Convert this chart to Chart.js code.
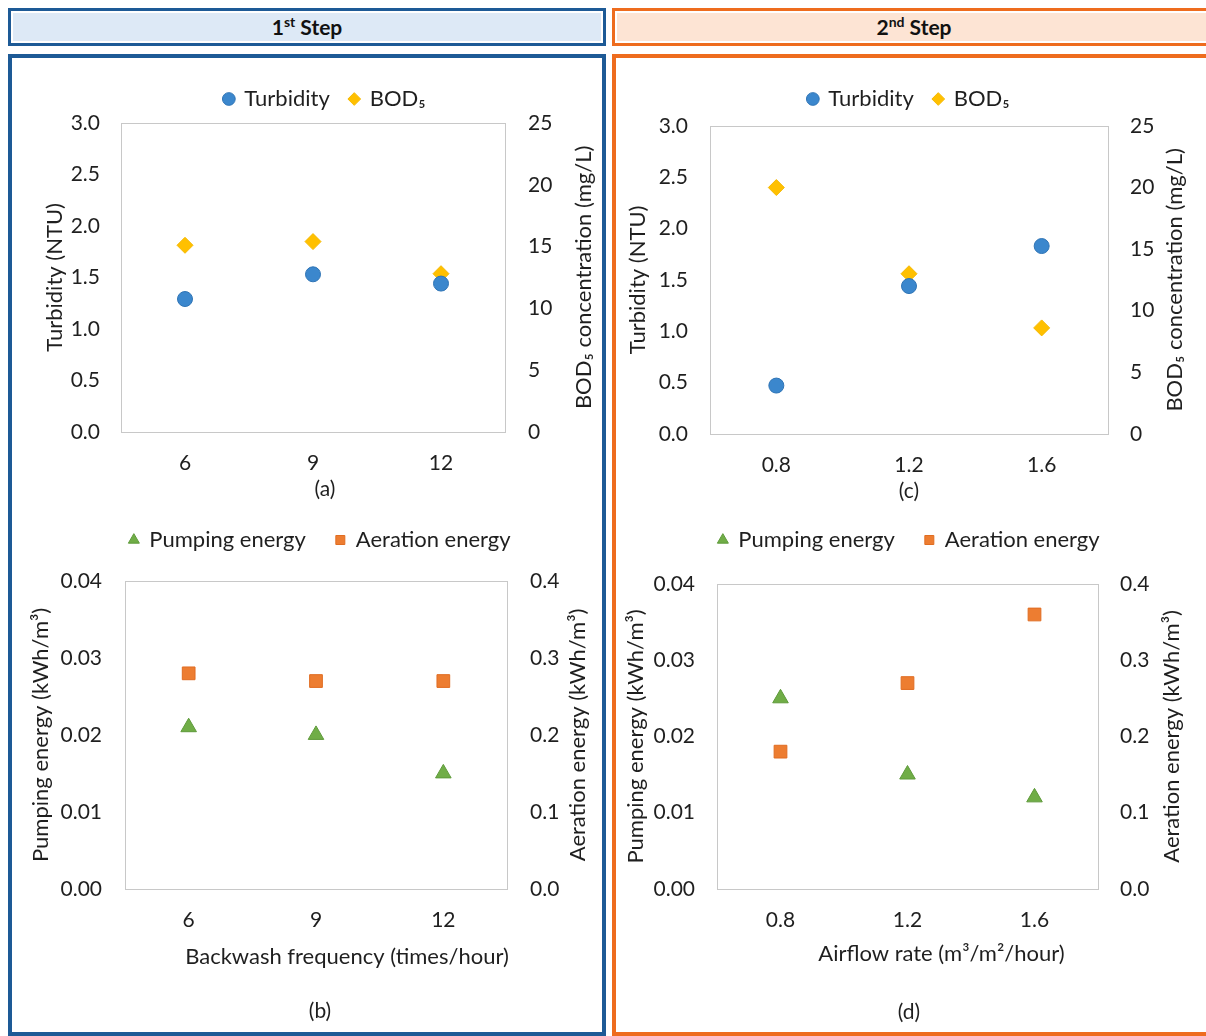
<!DOCTYPE html>
<html>
<head>
<meta charset="utf-8">
<script src="https://cdn.jsdelivr.net/npm/chart.js@4.4.1/dist/chart.umd.min.js"></script>
<style>
  body { margin: 0; width: 1206px; height: 1036px; overflow: hidden; background: #fff; position: relative;
         font-family: Lato, "Open Sans", sans-serif; }
  .head { position: absolute; top: 8px; height: 38px; box-sizing: border-box; border: 3px solid;
          box-shadow: inset 0 0 0 2px #fff; text-align: center; font-weight: bold; font-size: 21px;
          line-height: 32px; color: #111; }
  .head sup { font-size: 14px; line-height: 0; }
  .panel { position: absolute; top: 54px; height: 982px; box-sizing: border-box; border: 4px solid; }
  .blue { border-color: #1d5a96; }
  .orange { border-color: #ee6c1e; }
  .wrap { position: absolute; }
</style>
</head>
<body>

<div class="head blue" style="left:8px; width:598px; background:#dde9f6;">1<sup>st</sup> Step</div>
<div class="head orange" style="left:612px; width:604px; background:#fde4d4;">2<sup>nd</sup> Step</div>
<div class="panel blue" style="left:8px; width:598px;"></div>
<div class="panel orange" style="left:612px; width:604px;"></div>

<div class="wrap" style="left:14px; top:60px; width:622px; height:452px;"><canvas id="chartA"></canvas></div>
<div class="wrap" style="left:14px; top:495px; width:612px; height:535px;"><canvas id="chartB"></canvas></div>
<div class="wrap" style="left:618px; top:60px; width:582px; height:452px;"><canvas id="chartC"></canvas></div>
<div class="wrap" style="left:618px; top:495px; width:582px; height:535px;"><canvas id="chartD"></canvas></div>

<script>
// data
const backwashFreq = ['6', '9', '12'];
const airflowRate = ['0.8', '1.2', '1.6'];

const turbidityStep1 = [1.29, 1.53, 1.44];
const bodStep1 = [15.1, 15.4, 12.8];
const pumpingStep1 = [0.021, 0.020, 0.015];
const aerationStep1 = [0.28, 0.27, 0.27];

const turbidityStep2 = [0.47, 1.44, 1.83];
const bodStep2 = [20.0, 13.0, 8.6];
const pumpingStep2 = [0.025, 0.015, 0.012];
const aerationStep2 = [0.18, 0.27, 0.36];

// axis ticks
const turbidityTicks = [0, 0.5, 1.0, 1.5, 2.0, 2.5, 3.0];
const bodTicks = [0, 5, 10, 15, 20, 25];
const pumpingTicks = [0, 0.01, 0.02, 0.03, 0.04];
const aerationTicks = [0, 0.1, 0.2, 0.3, 0.4];

const textColor = '#1f1f1f';
const fontFamily = 'Lato, "Open Sans", sans-serif';
Chart.defaults.font.family = fontFamily;
Chart.defaults.font.size = 22;
Chart.defaults.color = textColor;

// light grey frame around the plot area
const plotFrame = {
    id: 'plotFrame',
    beforeDatasetsDraw(chart) {
        const { ctx, chartArea: a } = chart;
        ctx.save();
        ctx.strokeStyle = '#c8c8c8';
        ctx.lineWidth = 1;
        ctx.strokeRect(Math.round(a.left) + 0.5, Math.round(a.top) + 0.5,
            Math.round(a.right - a.left), Math.round(a.bottom - a.top));
        ctx.restore();
    }
};

// right axis title reads bottom-to-top like the left one; x title sits a bit off centre
const extraTitles = {
    id: 'extraTitles',
    afterDraw(chart, args, opts) {
        const { ctx, chartArea: a } = chart;
        const s = chart.scales.y2;
        ctx.save();
        ctx.font = '22px ' + fontFamily;
        ctx.fillStyle = textColor;
        ctx.textAlign = 'center';
        ctx.textBaseline = 'middle';
        if (opts.xText) {
            ctx.fillText(opts.xText, (a.left + a.right) / 2 + opts.xShift, a.bottom + opts.xDrop);
        }
        ctx.translate(s.right - opts.offset, (s.top + s.bottom) / 2);
        ctx.rotate(-Math.PI / 2);
        ctx.fillText(opts.text, 0, 0);
        ctx.restore();
    }
};

function pointSet(label, data, axis, style, color, edge, radius) {
    return {
        label: label,
        data: data,
        xAxisID: 'x',
        yAxisID: axis,
        showLine: false,
        pointStyle: style,
        pointRadius: radius,
        pointHoverRadius: radius,
        backgroundColor: color,
        borderColor: edge,
        pointBorderWidth: 1
    };
}

function yAxis(pos, ticks, dec, width, tickPad, title, titlePad) {
    return {
        position: pos,
        min: ticks[0],
        max: ticks[ticks.length - 1],
        grid: { display: false, drawTicks: false },
        border: { display: false },
        afterBuildTicks: s => { s.ticks = ticks.map(v => ({ value: v })); },
        afterFit: s => { s.width = width; },
        ticks: { padding: tickPad, font: { size: 21 }, callback: v => Number(v).toFixed(dec) },
        title: { display: !!title, text: title, padding: { top: titlePad, bottom: 0 } }
    };
}

function makeChart(id, p) {
    new Chart(document.getElementById(id), {
        type: 'line',
        data: { labels: p.labels, datasets: p.datasets },
        options: {
            responsive: true,
            maintainAspectRatio: false,
            animation: false,
            layout: { padding: { top: p.padTop, bottom: p.padBottom, left: 0, right: 0 } },
            plugins: {
                legend: {
                    position: 'top',
                    labels: { usePointStyle: true, boxWidth: 9, boxHeight: 9, padding: p.legendPad, color: textColor }
                },
                title: {
                    display: true,
                    position: 'bottom',
                    text: p.caption,
                    padding: { top: p.capTop, bottom: 4 },
                    font: { size: 21, weight: 'normal' },
                    color: textColor
                },
                tooltip: { enabled: false },
                extraTitles: {
                    text: p.rightTitle, offset: p.rightTitleOffset,
                    xText: p.xTitle, xShift: p.xShift, xDrop: p.xDrop
                }
            },
            scales: {
                x: {
                    type: 'category',
                    offset: true,
                    grid: { display: false, drawTicks: false },
                    border: { display: false },
                    ticks: { padding: 19, font: { size: 21 } },
                    afterFit: s => { s.height = p.xHeight; }
                },
                gap: {
                    type: 'category',
                    position: 'top',
                    grid: { display: false, drawTicks: false },
                    border: { display: false },
                    ticks: { display: false },
                    afterFit: s => { s.height = p.gap; }
                },
                y: yAxis('left', p.leftTicks, p.leftDec, p.leftW, p.leftTickPad, p.leftTitle, p.leftTitlePad),
                y2: yAxis('right', p.rightTicks, p.rightDec, p.rightW, p.rightTickPad, '', 0)
            }
        },
        plugins: [plotFrame, extraTitles]
    });
}

const blue = '#3b87cd', blueEdge = '#2f74b5';
const gold = '#ffc000', goldEdge = '#f5b800';
const green = '#70ad47', greenEdge = '#5e9a3a';
const orange = '#ed7d31', orangeEdge = '#e06d22';

makeChart('chartA', {
    labels: backwashFreq,
    datasets: [
        pointSet('Turbidity', turbidityStep1, 'y', 'circle', blue, blueEdge, 7.5),
        pointSet('BOD₅', bodStep1, 'y2', 'rectRot', gold, goldEdge, 8)
    ],
    padTop: 8, padBottom: 6, legendPad: 20, gap: 3, xHeight: 42, capTop: 3,
    caption: '(a)', xTitle: '', xShift: 0, xDrop: 0,
    leftTicks: turbidityTicks, leftDec: 1, leftW: 107, leftTickPad: 21, leftTitle: 'Turbidity (NTU)', leftTitlePad: 28,
    rightTicks: bodTicks, rightDec: 0, rightW: 131, rightTickPad: 23,
    rightTitle: 'BOD₅ concentration (mg/L)', rightTitleOffset: 52
});

makeChart('chartB', {
    labels: backwashFreq,
    datasets: [
        pointSet('Pumping energy', pumpingStep1, 'y', 'triangle', green, greenEdge, 9),
        pointSet('Aeration energy', aerationStep1, 'y2', 'rect', orange, orangeEdge, 9)
    ],
    padTop: 4, padBottom: 2, legendPad: 30, gap: 20, xHeight: 91, capTop: 19,
    caption: '(b)', xTitle: 'Backwash frequency (times/hour)', xShift: 31, xDrop: 68,
    leftTicks: pumpingTicks, leftDec: 2, leftW: 111, leftTickPad: 23, leftTitle: 'Pumping energy (kWh/m³)', leftTitlePad: 14,
    rightTicks: aerationTicks, rightDec: 1, rightW: 119, rightTickPad: 23,
    rightTitle: 'Aeration energy (kWh/m³)', rightTitleOffset: 48
});

makeChart('chartC', {
    labels: airflowRate,
    datasets: [
        pointSet('Turbidity', turbidityStep2, 'y', 'circle', blue, blueEdge, 7.5),
        pointSet('BOD₅', bodStep2, 'y2', 'rectRot', gold, goldEdge, 8)
    ],
    padTop: 8, padBottom: 4, legendPad: 20, gap: 6, xHeight: 42, capTop: 3,
    caption: '(c)', xTitle: '', xShift: 0, xDrop: 0,
    leftTicks: turbidityTicks, leftDec: 1, leftW: 92, leftTickPad: 22, leftTitle: 'Turbidity (NTU)', leftTitlePad: 7,
    rightTicks: bodTicks, rightDec: 0, rightW: 92, rightTickPad: 22,
    rightTitle: 'BOD₅ concentration (mg/L)', rightTitleOffset: 25
});

makeChart('chartD', {
    labels: airflowRate,
    datasets: [
        pointSet('Pumping energy', pumpingStep2, 'y', 'triangle', green, greenEdge, 9),
        pointSet('Aeration energy', aerationStep2, 'y2', 'rect', orange, orangeEdge, 9)
    ],
    padTop: 4, padBottom: 1, legendPad: 30, gap: 23, xHeight: 88, capTop: 23,
    caption: '(d)', xTitle: 'Airflow rate (m³/m²/hour)', xShift: 34, xDrop: 65,
    leftTicks: pumpingTicks, leftDec: 2, leftW: 99, leftTickPad: 22, leftTitle: 'Pumping energy (kWh/m³)', leftTitlePad: 5,
    rightTicks: aerationTicks, rightDec: 1, rightW: 102, rightTickPad: 22,
    rightTitle: 'Aeration energy (kWh/m³)', rightTitleOffset: 28
});
</script>
</body>
</html>
